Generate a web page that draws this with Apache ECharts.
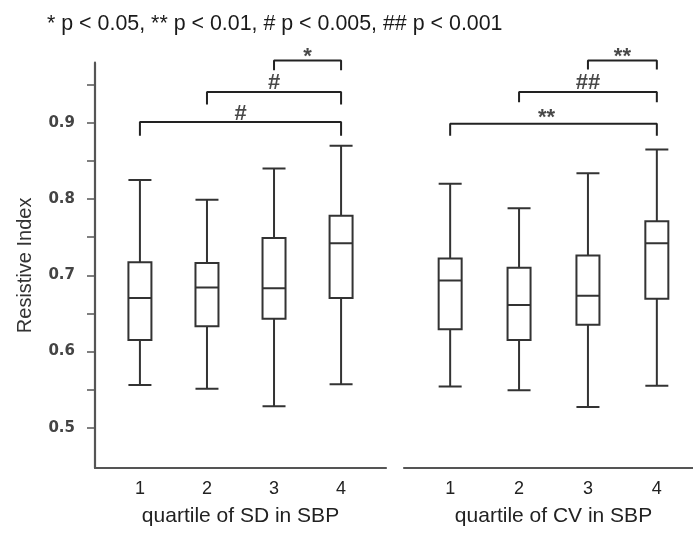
<!DOCTYPE html>
<html>
<head>
<meta charset="utf-8">
<script src="https://cdn.jsdelivr.net/npm/echarts@6/dist/echarts.min.js"></script>
<style>
html, body { margin: 0; padding: 0; background: #fff; }
#main { width: 693px; height: 533px; }
</style>
</head>
<body>
<div id="main"></div>
<script>
var quartiles = [1, 2, 3, 4];
var yLabelValues = [0.5, 0.6, 0.7, 0.8, 0.9];
var yTickValues = [0.5, 0.55, 0.6, 0.65, 0.7, 0.75, 0.8, 0.85, 0.9, 0.95];

// [min, Q1, median, Q3, max] for quartile 1..4
var sdBoxes = [
    [0.556, 0.615, 0.670, 0.717, 0.825],
    [0.551, 0.633, 0.684, 0.716, 0.799],
    [0.528, 0.643, 0.683, 0.749, 0.840],
    [0.557, 0.670, 0.742, 0.778, 0.870]
];
var cvBoxes = [
    [0.554, 0.629, 0.693, 0.722, 0.820],
    [0.549, 0.615, 0.661, 0.710, 0.788],
    [0.527, 0.635, 0.673, 0.726, 0.834],
    [0.555, 0.669, 0.742, 0.771, 0.865]
];

// [from quartile, to quartile, bar level, leg end]
var sdBrackets = [[3, 4, 0.982, 0.969], [2, 4, 0.9406, 0.924], [1, 4, 0.901, 0.883]];
var cvBrackets = [[3, 4, 0.982, 0.970], [2, 4, 0.9406, 0.927], [1, 4, 0.899, 0.883]];
// significance marks: [x, y, text]
var sdMarks = [[3.5, 0.986, '*'], [3, 0.9525, '#'], [2.5, 0.912, '#']];
var cvMarks = [[3.5, 0.986, '**'], [3, 0.953, '##'], [2.4, 0.906, '**']];

var FONT = '"Liberation Sans", Arial, sans-serif';
var myChart = echarts.init(document.getElementById('main'));

function boxData(boxes) {
    return boxes.map(function (b, i) {
        return [quartiles[i]].concat(b);
    });
}

function bracketSeries(brackets, marks, axisIdx) {
    var out = [];
    brackets.forEach(function (b) {
        out.push({
            type: 'line',
            xAxisIndex: axisIdx,
            yAxisIndex: axisIdx,
            data: [[b[0], b[3]], [b[0], b[2]], [b[1], b[2]], [b[1], b[3]]],
            symbol: 'none',
            clip: false,
            silent: true,
            lineStyle: { color: '#222', width: 2 }
        });
    });
    out.push({
        type: 'scatter',
        xAxisIndex: axisIdx,
        yAxisIndex: axisIdx,
        clip: false,
        silent: true,
        symbolSize: 1,
        itemStyle: { color: 'transparent' },
        data: marks.map(function (m) {
            return {
                value: [m[0], m[1]],
                label: {
                    show: true,
                    position: 'inside',
                    formatter: m[2],
                    fontSize: 22,
                    fontWeight: 'bold',
                    fontFamily: FONT,
                    color: '#1a1a1a'
                }
            };
        })
    });
    return out;
}

function xAxisOf(grid, name) {
    return {
        gridIndex: grid,
        type: 'value',
        min: 0.33,
        max: 4.67,
        axisLine: { show: true, onZero: false, lineStyle: { color: '#555', width: 2.2 } },
        axisTick: { show: false },
        splitLine: { show: false },
        axisLabel: {
            customValues: quartiles,
            margin: 12,
            fontSize: 18,
            fontFamily: FONT,
            color: '#222'
        },
        name: name,
        nameLocation: 'middle',
        nameGap: 38,
        nameTextStyle: { fontSize: 21, fontFamily: FONT, color: '#222' }
    };
}

option = {
    animation: false,
    title: {
        text: '* p < 0.05, ** p < 0.01, # p < 0.005, ## p < 0.001',
        left: 47,
        top: 14,
        padding: 0,
        textStyle: { fontSize: 21.4, fontWeight: 'normal', fontFamily: FONT, color: '#1a1a1a' }
    },
    grid: [
        { left: 95, top: 62.7, width: 291, height: 405.3, outerBoundsMode: 'none' },
        { left: 404, top: 62.7, width: 299, height: 405.3, outerBoundsMode: 'none' }
    ],
    xAxis: [
        xAxisOf(0, 'quartile of SD in SBP'),
        xAxisOf(1, 'quartile of CV in SBP')
    ],
    yAxis: [
        {
            gridIndex: 0,
            type: 'value',
            min: 0.447,
            max: 0.979,
            axisLine: { show: true, lineStyle: { color: '#555', width: 2.2 } },
            axisTick: { show: true, customValues: yTickValues, length: 8, lineStyle: { color: '#555', width: 1.5 } },
            axisLabel: {
                customValues: yLabelValues,
                margin: 20,
                fontSize: 15,
                fontWeight: 'bold',
                fontFamily: '"DejaVu Sans", sans-serif',
                color: '#444',
                formatter: function (v) { return v.toFixed(1); }
            },
            splitLine: { show: false },
            name: 'Resistive Index',
            nameLocation: 'middle',
            nameGap: 60,
            nameTextStyle: { fontSize: 20, fontFamily: FONT, color: '#333' }
        },
        {
            gridIndex: 1,
            type: 'value',
            min: 0.447,
            max: 0.979,
            show: false
        }
    ],
    series: [
        {
            type: 'boxplot',
            xAxisIndex: 0,
            yAxisIndex: 0,
            boxWidth: [23, 23],
            silent: true,
            itemStyle: { color: '#fff', borderColor: '#333', borderWidth: 2 },
            data: boxData(sdBoxes)
        },
        {
            type: 'boxplot',
            xAxisIndex: 1,
            yAxisIndex: 1,
            boxWidth: [23, 23],
            silent: true,
            itemStyle: { color: '#fff', borderColor: '#333', borderWidth: 2 },
            data: boxData(cvBoxes)
        }
    ].concat(bracketSeries(sdBrackets, sdMarks, 0), bracketSeries(cvBrackets, cvMarks, 1))
};

myChart.setOption(option);
</script>
</body>
</html>
